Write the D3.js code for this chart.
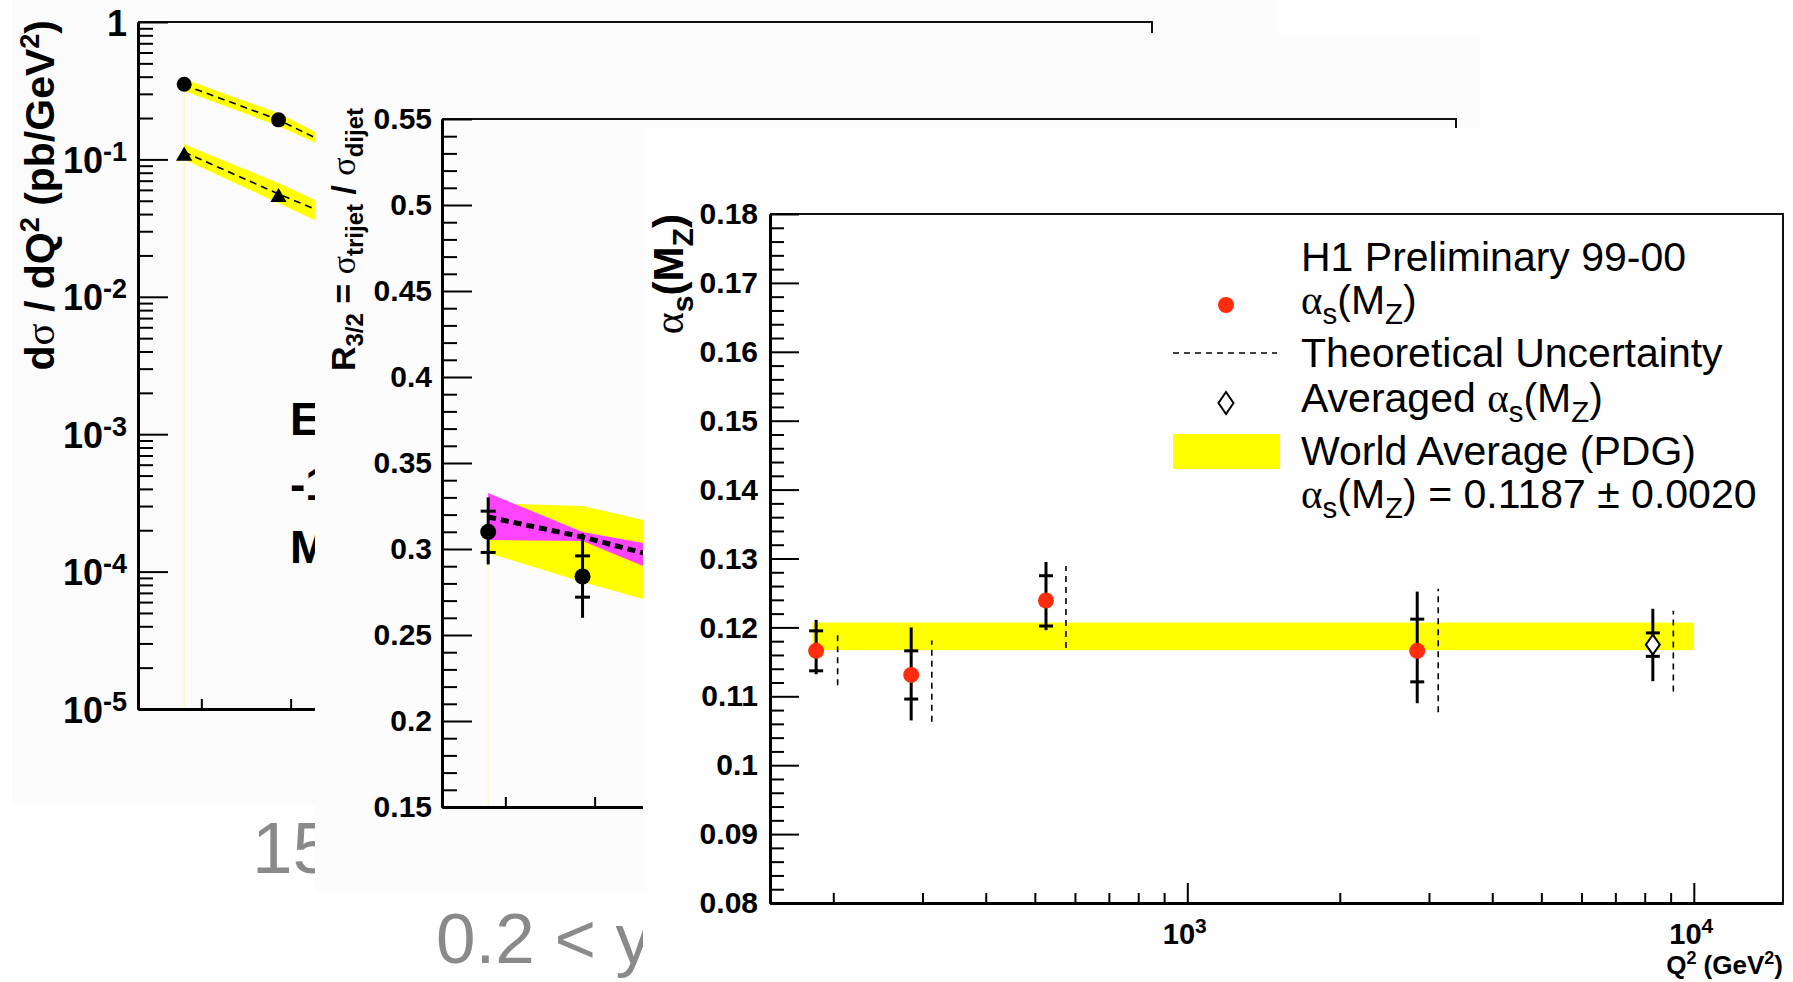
<!DOCTYPE html>
<html><head><meta charset="utf-8">
<script src="https://cdn.jsdelivr.net/npm/d3@7"></script>
<style>
body{margin:0;background:#fff;}
svg{display:block;}
text{font-family:"Liberation Sans",Arial,Helvetica,sans-serif;}
</style>
</head><body>
<svg id="c" width="1793" height="982"></svg>
<script>
// ---------------- DATA ----------------
const q2Domain = [150, 15000];

// Panel 1 : d sigma / dQ^2
const p1PointQ2 = [185, 284];
const dijetXsec = [0.352, 0.194];
const trijetXsec = [0.106, 0.053];
const p1BandQ2 = [185, 284, 335];
const dijetNlo = [0.348, 0.194, 0.144];
const dijetNloLo = [0.315, 0.175, 0.132];
const dijetNloHi = [0.385, 0.217, 0.159];
const trijetNlo = [0.113, 0.056, 0.0435];
const trijetNloLo = [0.100, 0.048, 0.0362];
const trijetNloHi = [0.129, 0.0673, 0.0506];
const p1YTickExp = [-5, -4, -3, -2, -1, 0];
const p1YTickLabels = [["10","-5"],["10","-4"],["10","-3"],["10","-2"],["10","-1"],["1",""]];
const p1Title = ["d", "σ", " / dQ", "2", " (pb/GeV", "2", ")"];
const p1Fragments = ["E", "-1", "M"];

// Panel 2 : R3/2
const r32Q2 = [185, 284];
const r32 = [0.310, 0.284];
const r32TotLo = [0.291, 0.260];
const r32TotHi = [0.330, 0.309];
const r32StatLo = [0.298, 0.272];
const r32StatHi = [0.322, 0.296];
const p2BandQ2 = [185, 284, 374];
const r32ScaleHi = [0.3267, 0.3250, 0.3169];
const r32ScaleLo = [0.2977, 0.2808, 0.2709];
const r32PdfHi = [0.3326, 0.3099, 0.3035];
const r32PdfLo = [0.3052, 0.3047, 0.2901];
const r32Nlo = [0.3186, 0.3070, 0.2977];
const p2YTicks = [0.15, 0.2, 0.25, 0.3, 0.35, 0.4, 0.45, 0.5, 0.55];
const p2YTickLabels = ["0.15","0.2","0.25","0.3","0.35","0.4","0.45","0.5","0.55"];

// Panel 3 : alpha_s(M_Z)
const asQ2 = [185, 285, 526, 2844];
const asVal = [0.1166, 0.1131, 0.1239, 0.1166];
const asTotLo = [0.1132, 0.1065, 0.1196, 0.1090];
const asTotHi = [0.1211, 0.1200, 0.1295, 0.1252];
const asStatLo = [0.1137, 0.1096, 0.1202, 0.1121];
const asStatHi = [0.1195, 0.1166, 0.1275, 0.1212];
const asTheoQ2 = [204, 313, 576, 3129];
const asTheoLo = [0.1116, 0.1063, 0.1170, 0.1077];
const asTheoHi = [0.1196, 0.1181, 0.1289, 0.1256];
const avgQ2 = [8300];
const avgVal = [0.1175];
const avgTotLo = [0.1122];
const avgTotHi = [0.1227];
const avgStatLo = [0.1158];
const avgStatHi = [0.1192];
const avgTheoQ2 = [9111];
const avgTheoLo = [0.1107];
const avgTheoHi = [0.1224];
const worldAvg = 0.1187, worldErr = 0.0020;
const worldBandQ2 = [182, 10000];
const p3YTicks = [0.08,0.09,0.1,0.11,0.12,0.13,0.14,0.15,0.16,0.17,0.18];
const p3YTickLabels = ["0.08","0.09","0.1","0.11","0.12","0.13","0.14","0.15","0.16","0.17","0.18"];
const p3XTicks = [1000, 10000];
const p3XTickLabels = [["10","3"],["10","4"]];
const legendLines = ["H1 Preliminary 99-00", "αs(MZ)", "Theoretical Uncertainty", "Averaged αs(MZ)", "World Average (PDG)", "αs(MZ) = 0.1187 ± 0.0020"];
const slideTexts = ["15", "0.2 < y"];

// ---------------- DRAW ----------------
const svg = d3.select("#c");
const RED = "#ff2d0d", YEL = "#ffff00", MAG = "#ff44ff";
const serif = "'Liberation Serif','DejaVu Serif',serif";

const minorLog = [];
[100, 1000].forEach(b => { for (let m = 2; m <= 9; m++) minorLog.push(m * b); });

function styleAxis(g, domW) {
  g.select(".domain").attr("stroke", "#000").attr("stroke-width", domW);
  g.selectAll(".tick line").attr("stroke", "#000").attr("stroke-width", 2);
  g.selectAll("text").attr("fill", "#000").attr("font-weight", "bold").attr("font-family", "'Liberation Sans',Arial,sans-serif");
}

function frame(g, x0, x1, y0, y1) {
  g.append("path").attr("d", `M${x0},${y0}H${x1}V${y1}`).attr("fill", "none").attr("stroke", "#111").attr("stroke-width", 2);
}

function supText(sel, parts, supSize, rise) {
  parts.forEach((p, i) => {
    if (p === "") return;
    const t = sel.append("tspan").text(p);
    if (i % 2 === 1) t.attr("font-size", supSize).attr("dy", -rise);
    else if (i > 0) t.attr("dy", rise);
  });
}

function alphaMz(sel, fs) {
  sel.append("tspan").attr("font-family", serif).attr("font-weight", "normal").text("α");
  sel.append("tspan").attr("font-size", fs * 0.72).attr("dy", fs * 0.24).text("s");
  sel.append("tspan").attr("dy", -fs * 0.24).text("(M");
  sel.append("tspan").attr("font-size", fs * 0.72).attr("dy", fs * 0.24).text("Z");
  sel.append("tspan").attr("dy", -fs * 0.24).text(")");
}

// slide text "15" (under panel 2)
svg.append("text").attr("x", 252).attr("y", 873).attr("font-size", 73).attr("fill", "#8a8a8a").text(slideTexts[0]);

// ======== PANEL 1 ========
const g1 = svg.append("g");
g1.append("rect").attr("x", 12).attr("y", 0).attr("width", 1265).attr("height", 805).attr("fill", "#fbfbfb");
const x1 = d3.scaleLog().domain(q2Domain).range([138, 1152]);
const y1 = d3.scaleLog().domain([1e-5, 1]).range([709, 22]);

p1Fragments.forEach((t, i) => {
  g1.append("text").attr("x", 290).attr("y", [435, 500, 563][i]).attr("font-size", 46).attr("font-weight", "bold").text(t);
});

g1.append("line").attr("x1", x1(p1PointQ2[0])).attr("x2", x1(p1PointQ2[0])).attr("y1", y1(dijetXsec[0])).attr("y2", 708)
  .attr("stroke", "#fff6a8").attr("stroke-width", 1);

const bandIdx = d3.range(p1BandQ2.length);
const area1 = (lo, hi) => d3.area().x(i => x1(p1BandQ2[i])).y0(i => y1(lo[i])).y1(i => y1(hi[i]))(bandIdx);
g1.append("path").attr("d", area1(dijetNloLo, dijetNloHi)).attr("fill", YEL);
g1.append("path").attr("d", area1(trijetNloLo, trijetNloHi)).attr("fill", YEL);
const line1 = v => d3.line().x(i => x1(p1BandQ2[i])).y(i => y1(v[i]))(bandIdx);
[dijetNlo, trijetNlo].forEach(v => g1.append("path").attr("d", line1(v)).attr("fill", "none").attr("stroke", "#000").attr("stroke-width", 1.6).attr("stroke-dasharray", "7,5"));
p1PointQ2.forEach((q, i) => {
  g1.append("circle").attr("cx", x1(q)).attr("cy", y1(dijetXsec[i])).attr("r", 7.5).attr("fill", "#000");
  g1.append("path").attr("d", d3.symbol(d3.symbolTriangle, 115)()).attr("transform", `translate(${x1(q)},${y1(trijetXsec[i])})`).attr("fill", "#000");
});

frame(g1, 138, 1152, 22, 709);
const ay1 = g1.append("g").attr("transform", "translate(138,0)")
  .call(d3.axisLeft(y1).tickValues(p1YTickExp.map(e => Math.pow(10, e))).tickSizeInner(-30).tickSizeOuter(0).tickPadding(11).tickFormat(""));
styleAxis(ay1, 3);
ay1.selectAll(".tick text").attr("font-size", 36).attr("dy", 13).each(function (d, i) {
  supText(d3.select(this), p1YTickLabels[i], 27, 12);
});
const minorY1 = [];
for (let e = -5; e < 0; e++) for (let m = 2; m <= 9; m++) minorY1.push(m * Math.pow(10, e));
const ay1m = g1.append("g").attr("transform", "translate(138,0)")
  .call(d3.axisLeft(y1).tickValues(minorY1).tickSizeInner(-15).tickSizeOuter(0).tickFormat(""));
styleAxis(ay1m, 3);
const ax1 = g1.append("g").attr("transform", "translate(0,709)")
  .call(d3.axisBottom(x1).tickValues(minorLog).tickSizeInner(-10).tickSizeOuter(0).tickFormat(""));
styleAxis(ax1, 3);

const t1 = g1.append("text").attr("transform", "translate(54,20) rotate(-90)").attr("text-anchor", "end")
  .attr("font-size", 41).attr("font-weight", "bold");
t1.append("tspan").text(p1Title[0]);
t1.append("tspan").attr("font-family", serif).attr("font-weight", "normal").text(p1Title[1]);
t1.append("tspan").text(p1Title[2]);
t1.append("tspan").attr("font-size", 27).attr("dy", -15).text(p1Title[3]);
t1.append("tspan").attr("dy", 15).text(p1Title[4]);
t1.append("tspan").attr("font-size", 27).attr("dy", -15).text(p1Title[5]);
t1.append("tspan").attr("dy", 15).text(p1Title[6]);

// ======== PANEL 2 ========
const g2 = svg.append("g");
g2.append("rect").attr("x", 315).attr("y", 33).attr("width", 1165).attr("height", 859).attr("fill", "#fcfcfc");
const x2 = d3.scaleLog().domain(q2Domain).range([442, 1456]);
const y2 = d3.scaleLinear().domain([0.15, 0.55]).range([807, 119]);

g2.append("line").attr("x1", x2(r32Q2[0])).attr("x2", x2(r32Q2[0])).attr("y1", y2(r32ScaleLo[0])).attr("y2", 806)
  .attr("stroke", "#fff6c0").attr("stroke-width", 1);
const bIdx2 = d3.range(p2BandQ2.length);
const area2 = (lo, hi) => d3.area().x(i => x2(p2BandQ2[i])).y0(i => y2(lo[i])).y1(i => y2(hi[i]))(bIdx2);
g2.append("path").attr("d", area2(r32ScaleLo, r32ScaleHi)).attr("fill", YEL);
g2.append("path").attr("d", area2(r32PdfLo, r32PdfHi)).attr("fill", MAG);
g2.append("path").attr("d", d3.line().x(i => x2(p2BandQ2[i])).y(i => y2(r32Nlo[i]))(bIdx2))
  .attr("fill", "none").attr("stroke", "#000").attr("stroke-width", 5).attr("stroke-dasharray", "8,5");
r32Q2.forEach((q, i) => {
  const cx = x2(q);
  g2.append("line").attr("x1", cx).attr("x2", cx).attr("y1", y2(r32TotLo[i])).attr("y2", y2(r32TotHi[i])).attr("stroke", "#000").attr("stroke-width", 3);
  [r32StatLo[i], r32StatHi[i]].forEach(v => g2.append("line").attr("x1", cx - 7.5).attr("x2", cx + 7.5).attr("y1", y2(v)).attr("y2", y2(v)).attr("stroke", "#000").attr("stroke-width", 3));
  g2.append("circle").attr("cx", cx).attr("cy", y2(r32[i])).attr("r", 8).attr("fill", "#000");
});

frame(g2, 442, 1456, 119, 807);
const ay2 = g2.append("g").attr("transform", "translate(442,0)")
  .call(d3.axisLeft(y2).tickValues(p2YTicks).tickSizeInner(-30).tickSizeOuter(0).tickPadding(10).tickFormat((d, i) => p2YTickLabels[i]));
styleAxis(ay2, 3);
ay2.selectAll(".tick text").attr("font-size", 30);
const ay2m = g2.append("g").attr("transform", "translate(442,0)")
  .call(d3.axisLeft(y2).tickValues(d3.range(15, 55).filter(v => v % 5 !== 0).map(v => v / 100)).tickSizeInner(-15).tickSizeOuter(0).tickFormat(""));
styleAxis(ay2m, 3);
const ax2 = g2.append("g").attr("transform", "translate(0,807)")
  .call(d3.axisBottom(x2).tickValues(minorLog).tickSizeInner(-10).tickSizeOuter(0).tickFormat(""));
styleAxis(ax2, 3);

const t2 = g2.append("text").attr("transform", "translate(355,108) rotate(-90)").attr("text-anchor", "end")
  .attr("font-size", 34).attr("font-weight", "bold");
t2.append("tspan").text("R");
t2.append("tspan").attr("font-size", 24).attr("dy", 8).text("3/2");
t2.append("tspan").attr("dy", -8).text(" = ");
t2.append("tspan").attr("font-family", serif).attr("font-weight", "normal").text("σ");
t2.append("tspan").attr("font-size", 24).attr("dy", 8).text("trijet");
t2.append("tspan").attr("dy", -8).text(" / ");
t2.append("tspan").attr("font-family", serif).attr("font-weight", "normal").text("σ");
t2.append("tspan").attr("font-size", 24).attr("dy", 8).text("dijet");

// slide text "0.2 < y" (under panel 3)
svg.append("text").attr("x", 436).attr("y", 963).attr("font-size", 71).attr("fill", "#8a8a8a").text(slideTexts[1]);

// ======== PANEL 3 ========
const g3 = svg.append("g");
g3.append("rect").attr("x", 643).attr("y", 128).attr("width", 1150).attr("height", 854).attr("fill", "#fefefe");
const x3 = d3.scaleLog().domain(q2Domain).range([770, 1783]);
const y3 = d3.scaleLinear().domain([0.08, 0.18]).range([903, 214]);

g3.append("rect").attr("x", x3(worldBandQ2[0])).attr("width", x3(worldBandQ2[1]) - x3(worldBandQ2[0]))
  .attr("y", y3(worldAvg + worldErr)).attr("height", y3(worldAvg - worldErr) - y3(worldAvg + worldErr)).attr("fill", YEL);

function errBar(q, totLo, totHi, stLo, stHi, thQ, thLo, thHi) {
  const cx = x3(q);
  g3.append("line").attr("x1", cx).attr("x2", cx).attr("y1", y3(totLo)).attr("y2", y3(totHi)).attr("stroke", "#000").attr("stroke-width", 3);
  [stLo, stHi].forEach(s => g3.append("line").attr("x1", cx - 7).attr("x2", cx + 7).attr("y1", y3(s)).attr("y2", y3(s)).attr("stroke", "#000").attr("stroke-width", 3));
  const tx = x3(thQ);
  g3.append("line").attr("x1", tx).attr("x2", tx).attr("y1", y3(thLo)).attr("y2", y3(thHi)).attr("stroke", "#000").attr("stroke-width", 1.6).attr("stroke-dasharray", "6,5");
}
asQ2.forEach((q, i) => {
  errBar(q, asTotLo[i], asTotHi[i], asStatLo[i], asStatHi[i], asTheoQ2[i], asTheoLo[i], asTheoHi[i]);
  g3.append("circle").attr("cx", x3(q)).attr("cy", y3(asVal[i])).attr("r", 8).attr("fill", RED);
});
const diamond = (w, h) => `M0,${-h / 2}L${w / 2},0L0,${h / 2}L${-w / 2},0Z`;
avgQ2.forEach((q, i) => {
  errBar(q, avgTotLo[i], avgTotHi[i], avgStatLo[i], avgStatHi[i], avgTheoQ2[i], avgTheoLo[i], avgTheoHi[i]);
  g3.append("path").attr("d", diamond(14, 20)).attr("transform", `translate(${x3(q)},${y3(avgVal[i])})`)
    .attr("fill", "#fff").attr("stroke", "#000").attr("stroke-width", 2);
});

frame(g3, 770, 1783, 214, 903);
const ay3 = g3.append("g").attr("transform", "translate(770,0)")
  .call(d3.axisLeft(y3).tickValues(p3YTicks).tickSizeInner(-29).tickSizeOuter(0).tickPadding(12).tickFormat((d, i) => p3YTickLabels[i]));
styleAxis(ay3, 3);
ay3.selectAll(".tick text").attr("font-size", 30);
const ay3m = g3.append("g").attr("transform", "translate(770,0)")
  .call(d3.axisLeft(y3).tickValues(d3.range(40, 90).filter(v => v % 5 !== 0).map(v => v / 500)).tickSizeInner(-14).tickSizeOuter(0).tickFormat(""));
styleAxis(ay3m, 3);
const ax3 = g3.append("g").attr("transform", "translate(0,903)")
  .call(d3.axisBottom(x3).tickValues(p3XTicks).tickSizeInner(-20).tickSizeOuter(0).tickPadding(20).tickFormat(""));
styleAxis(ax3, 3);
ax3.selectAll(".tick text").attr("font-size", 29).attr("dx", -3).each(function (d, i) {
  supText(d3.select(this), p3XTickLabels[i], 21, 11);
});
const ax3m = g3.append("g").attr("transform", "translate(0,903)")
  .call(d3.axisBottom(x3).tickValues(minorLog).tickSizeInner(-10).tickSizeOuter(0).tickFormat(""));
styleAxis(ax3m, 3);

const t3 = g3.append("text").attr("transform", "translate(683,214) rotate(-90)").attr("text-anchor", "end")
  .attr("font-size", 42).attr("font-weight", "bold");
alphaMz(t3, 42);
const tq = g3.append("text").attr("x", 1783).attr("y", 974).attr("text-anchor", "end").attr("font-size", 26).attr("font-weight", "bold");
supText(tq, ["Q", "2", " (GeV", "2", ")"], 18, 10);

// legend
const LX = 1301, LFS = 41;
g3.append("text").attr("x", LX).attr("y", 271).attr("font-size", LFS).text(legendLines[0]);
alphaMz(g3.append("text").attr("x", LX).attr("y", 314).attr("font-size", LFS), LFS);
g3.append("text").attr("x", LX).attr("y", 367).attr("font-size", LFS).text(legendLines[2]);
const lt4 = g3.append("text").attr("x", LX).attr("y", 412).attr("font-size", LFS);
lt4.append("tspan").text("Averaged ");
alphaMz(lt4, LFS);
g3.append("text").attr("x", LX).attr("y", 465).attr("font-size", LFS).text(legendLines[4]);
const lt6 = g3.append("text").attr("x", LX).attr("y", 508).attr("font-size", LFS);
alphaMz(lt6, LFS);
lt6.append("tspan").text(" = 0.1187 ± 0.0020");

g3.append("circle").attr("cx", 1226).attr("cy", 305).attr("r", 8).attr("fill", RED);
g3.append("line").attr("x1", 1173).attr("x2", 1277).attr("y1", 353).attr("y2", 353).attr("stroke", "#000").attr("stroke-width", 1.6).attr("stroke-dasharray", "6,5");
g3.append("path").attr("d", diamond(15, 22)).attr("transform", "translate(1226,403)").attr("fill", "#fff").attr("stroke", "#000").attr("stroke-width", 2);
g3.append("rect").attr("x", 1173).attr("y", 434).attr("width", 107).attr("height", 35).attr("fill", YEL);
</script>
</body></html>
